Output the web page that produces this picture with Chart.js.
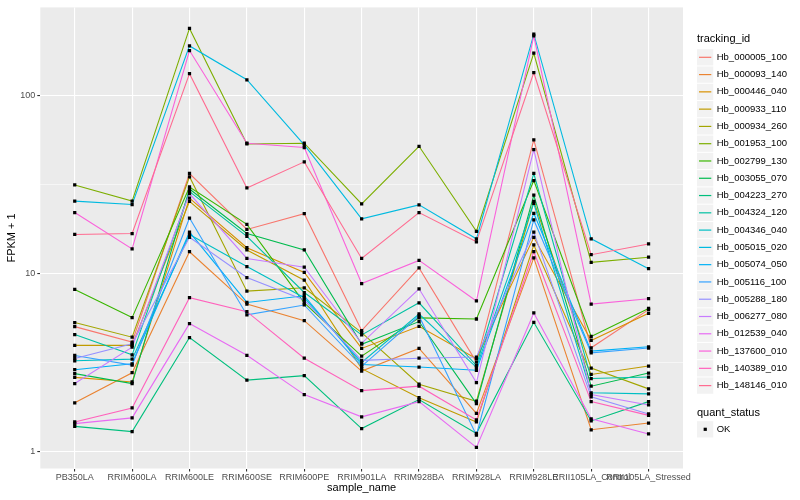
<!DOCTYPE html>
<html>
<head>
<meta charset="utf-8">
<script src="https://cdn.jsdelivr.net/npm/chart.js@4.4.0/dist/chart.umd.min.js"></script>
<style>
  html, body { margin: 0; padding: 0; background: #fff; }
  #wrap { width: 800px; height: 500px; }
</style>
</head>
<body>
<div id="wrap"><canvas id="myChart" width="800" height="500"></canvas></div>
<script>
// x categories
const sampleNames = ['PB350LA', 'RRIM600LA', 'RRIM600LE', 'RRIM600SE', 'RRIM600PE', 'RRIM901LA',
  'RRIM928BA', 'RRIM928LA', 'RRIM928LE', 'RRII105LA_Control', 'RRII105LA_Stressed'];

const trackingIds = ['Hb_000005_100', 'Hb_000093_140', 'Hb_000446_040', 'Hb_000933_110', 'Hb_000934_260',
  'Hb_001953_100', 'Hb_002799_130', 'Hb_003055_070', 'Hb_004223_270', 'Hb_004324_120',
  'Hb_004346_040', 'Hb_005015_020', 'Hb_005074_050', 'Hb_005116_100', 'Hb_005288_180',
  'Hb_006277_080', 'Hb_012539_040', 'Hb_137600_010', 'Hb_140389_010', 'Hb_148146_010'];

// FPKM + 1, one value per sample
const hb_000005_100 = [5.01, 4.10, 36.3, 17.6, 21.6, 4.76, 10.7, 3.17, 56.0, 3.81, 6.24];
const hb_000093_140 = [1.87, 2.76, 13.2, 6.71, 5.41, 2.82, 3.78, 1.63, 12.2, 1.32, 1.44];
const hb_000446_040 = [2.60, 2.45, 26.4, 13.9, 10.1, 3.78, 5.03, 3.31, 15.9, 4.19, 5.95];
const hb_000933_110 = [3.93, 3.93, 25.3, 13.5, 9.14, 2.91, 2.00, 1.46, 14.4, 2.70, 3.01];
const hb_000934_260 = [5.28, 4.37, 34.8, 7.93, 8.28, 4.64, 2.38, 1.91, 25.3, 2.93, 2.24];
const hb_001953_100 = [31.3, 25.4, 237, 53.2, 53.7, 24.5, 51.6, 17.2, 172, 11.5, 12.3];
const hb_002799_130 = [8.10, 5.63, 30.5, 18.8, 6.82, 3.42, 5.61, 5.53, 33.1, 4.41, 6.34];
const hb_003055_070 = [2.73, 2.40, 29.7, 16.7, 13.5, 3.99, 5.35, 1.85, 27.4, 2.32, 2.75];
const hb_004223_270 = [1.38, 1.29, 4.35, 2.51, 2.66, 1.34, 1.95, 1.26, 5.30, 1.48, 1.90];
const hb_004324_120 = [4.52, 3.48, 28.7, 16.1, 7.79, 4.50, 6.82, 3.03, 36.3, 2.56, 2.61];
const hb_004346_040 = [3.22, 3.29, 16.5, 10.9, 7.28, 3.15, 5.90, 2.96, 24.7, 2.13, 2.10];
const hb_005015_020 = [25.4, 24.3, 189, 122, 52.6, 20.2, 24.2, 15.6, 220, 15.6, 10.6];
const hb_005074_050 = [2.87, 3.10, 17.0, 6.85, 7.47, 3.07, 2.97, 2.85, 21.7, 3.65, 3.86];
const hb_005116_100 = [3.45, 3.05, 20.4, 5.83, 6.63, 3.00, 5.75, 1.23, 19.9, 3.57, 3.80];
const hb_005288_180 = [3.32, 4.01, 15.9, 9.45, 7.07, 3.24, 3.33, 3.38, 17.0, 2.02, 1.62];
const hb_006277_080 = [2.40, 3.84, 28.0, 12.1, 10.8, 4.04, 8.17, 2.43, 49.5, 2.08, 1.82];
const hb_012539_040 = [1.43, 1.54, 5.21, 3.46, 2.08, 1.56, 1.90, 1.05, 5.98, 1.52, 1.25];
const hb_137600_010 = [21.9, 13.7, 178, 53.7, 50.8, 8.75, 11.8, 6.98, 215, 6.71, 7.19];
const hb_140389_010 = [1.46, 1.75, 7.28, 6.08, 3.33, 2.19, 2.32, 1.50, 13.2, 1.90, 1.59];
const hb_148146_010 = [16.5, 16.7, 132, 30.1, 42.2, 12.1, 21.9, 15.0, 134, 12.7, 14.6];

const seriesValues = [hb_000005_100, hb_000093_140, hb_000446_040, hb_000933_110, hb_000934_260,
  hb_001953_100, hb_002799_130, hb_003055_070, hb_004223_270, hb_004324_120,
  hb_004346_040, hb_005015_020, hb_005074_050, hb_005116_100, hb_005288_180,
  hb_006277_080, hb_012539_040, hb_137600_010, hb_140389_010, hb_148146_010];

// y grid: major breaks labelled, minor ones only as thin lines
const yMajor = [1, 10, 100];
const yMinor = [3.1623, 31.623];

// ggplot hue palette, 20 levels
const palette = ['#F8766D', '#EA8331', '#D89000', '#C09B00', '#A3A500', '#7CAE00', '#39B600', '#00BB4E',
  '#00BF7D', '#00C1A3', '#00BFC4', '#00BAE0', '#00B0F6', '#35A2FF', '#9590FF', '#C77CFF',
  '#E76BF3', '#FA62DB', '#FF62BC', '#FF6C91'];

const FONT = '"Liberation Sans", Arial, sans-serif';

const toPoints = vals => vals.map((v, i) => ({ x: i, y: v }));

const lineSets = seriesValues.map((vals, k) => ({
  label: trackingIds[k],
  data: toPoints(vals),
  borderColor: palette[k],
  borderWidth: 1.1,
  pointRadius: 0,
  fill: false,
  tension: 0,
  order: 100 - k
}));
const pointSets = seriesValues.map((vals, k) => ({
  label: trackingIds[k] + '_pts',
  data: toPoints(vals),
  showLine: false,
  pointStyle: 'rect',
  pointRadius: 2.3,
  pointBackgroundColor: '#000',
  pointBorderWidth: 0,
  order: 0
}));

const panelBg = {
  id: 'panelBg',
  beforeDraw(chart) {
    const { ctx, chartArea: a } = chart;
    ctx.save();
    ctx.fillStyle = '#EBEBEB';
    ctx.fillRect(a.left, a.top, a.right - a.left, a.bottom - a.top);
    ctx.restore();
  }
};

const ggLegend = {
  id: 'ggLegend',
  afterDraw(chart) {
    const ctx = chart.ctx;
    const x0 = 697, key = 17.28, y0 = 57.3;
    ctx.save();
    ctx.textBaseline = 'middle';
    ctx.textAlign = 'left';
    ctx.fillStyle = '#000';
    ctx.font = '11px ' + FONT;
    ctx.fillText('tracking_id', x0, 39);
    trackingIds.forEach((id, k) => {
      const cy = y0 + k * key;
      ctx.fillStyle = '#F2F2F2';
      ctx.fillRect(x0, cy - key / 2 + 0.5, key - 1, key - 1);
      ctx.strokeStyle = palette[k];
      ctx.lineWidth = 1.2;
      ctx.beginPath();
      ctx.moveTo(x0 + 2, cy);
      ctx.lineTo(x0 + key - 3, cy);
      ctx.stroke();
      ctx.fillStyle = '#000';
      ctx.font = '9.5px ' + FONT;
      ctx.fillText(id, 716.7, cy);
    });
    ctx.font = '11px ' + FONT;
    ctx.fillText('quant_status', x0, 412.7);
    const cy = 429.3;
    ctx.fillStyle = '#F2F2F2';
    ctx.fillRect(x0, cy - key / 2 + 0.5, key - 1, key - 1);
    ctx.fillStyle = '#000';
    ctx.fillRect(x0 + key / 2 - 2, cy - 1.6, 3.2, 3.2);
    ctx.font = '9.5px ' + FONT;
    ctx.fillText('OK', 716.7, cy);
    ctx.restore();
  }
};

new Chart(document.getElementById('myChart'), {
  type: 'line',
  data: { datasets: lineSets.concat(pointSets) },
  plugins: [panelBg, ggLegend],
  options: {
    responsive: false,
    animation: false,
    events: [],
    layout: { padding: { left: 0, top: 5, right: 117, bottom: 0 } },
    plugins: { legend: { display: false }, tooltip: { enabled: false } },
    scales: {
      x: {
        type: 'linear',
        min: -0.6,
        max: sampleNames.length - 0.4,
        afterBuildTicks: s => { s.ticks = sampleNames.map((_, i) => ({ value: i })); },
        afterFit: s => { s.height = 31.5; },
        ticks: {
          callback: v => sampleNames[v],
          autoSkip: false, maxRotation: 0, minRotation: 0,
          color: '#4D4D4D', font: { family: FONT, size: 9 }, padding: 1
        },
        grid: { color: '#FFFFFF', lineWidth: 1.1, tickLength: 3, tickColor: '#333333' },
        border: { display: false },
        title: { display: true, text: 'sample_name', color: '#000', font: { family: FONT, size: 11 }, padding: { top: 0, bottom: 5.4 } }
      },
      y: {
        type: 'logarithmic',
        min: 0.8,
        max: 311,
        afterBuildTicks: s => { s.ticks = yMajor.concat(yMinor).sort((a, b) => a - b).map(v => ({ value: v })); },
        afterFit: s => { s.width = 40.3; },
        ticks: {
          callback: v => (yMajor.includes(v) ? String(v) : ''),
          autoSkip: false,
          color: '#4D4D4D', font: { family: FONT, size: 9 }, padding: 2
        },
        grid: {
          color: '#FFFFFF',
          lineWidth: c => (c.tick && yMajor.includes(c.tick.value) ? 1.1 : 0.55),
          tickLength: 3,
          tickColor: c => (c.tick && yMajor.includes(c.tick.value) ? '#333333' : 'rgba(0,0,0,0)')
        },
        border: { display: false },
        title: { display: true, text: 'FPKM + 1', color: '#000', font: { family: FONT, size: 11 }, padding: { top: 5.4, bottom: 0 } }
      }
    }
  }
});
</script>
</body>
</html>
